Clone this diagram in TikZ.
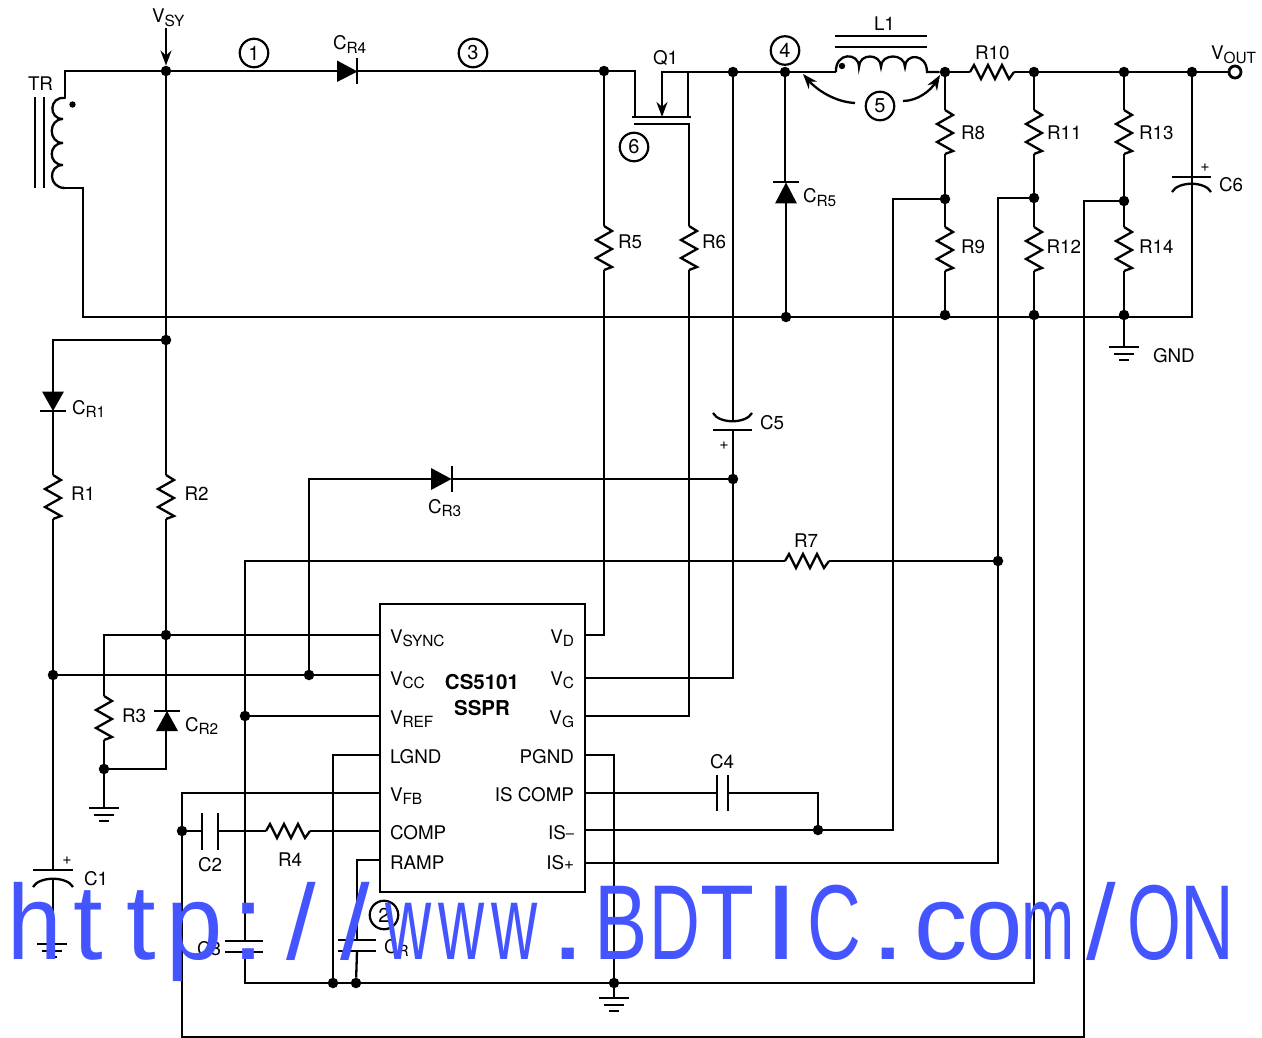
\documentclass[tikz,border=0pt]{standalone}
\usepackage{graphicx}
\usepackage{fontspec}
\setmainfont{TeX Gyre Heros}
\newfontfamily\wmfont{Liberation Sans}
\usetikzlibrary{arrows.meta}
\definecolor{wmblue}{RGB}{68,85,255}
\tikzset{
  wire/.style={line width=2.3pt,line join=miter,line cap=butt},
  dotj/.style={circle,fill=black,inner sep=0pt,minimum size=10.5pt},
  lab/.style={anchor=base west,inner sep=0pt,outer sep=0pt,font=\fontsize{18.8}{20}\selectfont},
  labr/.style={anchor=base east,inner sep=0pt,outer sep=0pt,font=\fontsize{18.8}{20}\selectfont},
  labb/.style={anchor=base,inner sep=0pt,outer sep=0pt,font=\fontsize{20.5}{22}\bfseries\selectfont},
  plus/.style={inner sep=0pt,outer sep=0pt,font=\fontsize{16}{17}\selectfont},
  num/.style={circle,draw,line width=2.2pt,minimum size=28.5pt,inner sep=0pt,font=\fontsize{20}{22}\selectfont},
  tip/.style={-{Stealth[length=15pt,width=11pt]},line width=2.3pt},
  watermark/.style={anchor=base west,inner sep=0pt,outer sep=0pt,text=wmblue,font=\fontsize{106.5}{120}\wmfont},
}
\newcommand{\wc}[2]{\makebox[53.3pt]{\scalebox{#1}[1]{#2}}}
\newcommand{\sbs}[2]{#1\raisebox{-3.2pt}{\fontsize{15.4}{16}\selectfont #2}}
\newcommand{\jn}[3]{\node[dotj] (#1) at (#2,#3) {};}
\newcommand{\cp}[3]{\coordinate (#1) at (#2,#3);}
% vertical resistor: name, x, ytop
\newcommand{\resV}[3]{%
  \coordinate (#1-t) at (#2,#3);\coordinate (#1-b) at (#2,#3+44);
  \draw[wire] (#1-t) -- ++(8,5) -- ++(-16,9) -- ++(16,9) -- ++(-16,9) -- ++(16,9) -- (#1-b);}
% horizontal resistor: name, xleft, y
\newcommand{\resH}[3]{%
  \coordinate (#1-l) at (#2,#3);\coordinate (#1-r) at (#2+44,#3);
  \draw[wire] (#1-l) -- ++(4,-7) -- ++(7,14) -- ++(7,-14) -- ++(7,14) -- ++(7,-14) -- ++(7,14) -- (#1-r);}
% ground: name, x, y of the top bar
\newcommand{\gnd}[3]{%
  \coordinate (#1) at (#2,#3);
  \draw[wire] (#2-15,#3) -- (#2+15,#3) (#2-10,#3+7) -- (#2+10,#3+7) (#2-5,#3+13) -- (#2+5,#3+13);}
\begin{document}
\begin{tikzpicture}[x=1pt,y=-1pt]
\useasboundingbox (0,0) rectangle (1262,1038);
% --- junctions
\jn{jVsy}{166}{71}\jn{jQs}{604}{71}\jn{jC}{733}{72}\jn{jF}{785}{72}\jn{jL}{945}{72}
\jn{jA}{1034}{72}\jn{jB}{1124}{72}\jn{jD}{1192}{72}
\jn{j340}{166}{340}\jn{jG5}{786}{317}\jn{jG9}{945}{315}\jn{jG12}{1034}{315}\jn{jG14}{1124}{315}
\jn{jR8}{945}{199}\jn{jR11}{1034}{198}\jn{jR13}{1124}{201}
\jn{jC5}{733}{479}\jn{jR7}{998}{561}\jn{jSync}{166}{635}\jn{jVcc}{53}{675}\jn{jVcc2}{309}{675}
\jn{jRef}{245}{716}\jn{jR3}{104}{769}\jn{jC2}{182}{831}\jn{jIs}{818}{830}
\jn{jB1}{333}{983}\jn{jB2}{356}{983}\jn{jB3}{614}{983}
% --- IC
\draw[wire] (380,604) rectangle (585,892) node[pos=.5,inner sep=0pt] (ic) {};
\cp{pSync}{380}{635}\cp{pVcc}{380}{675}\cp{pRef}{380}{716}\cp{pLg}{380}{755}\cp{pFb}{380}{793}\cp{pCo}{380}{831}\cp{pRa}{380}{860}
\cp{pD}{585}{635}\cp{pVc}{585}{678}\cp{pG}{585}{716}\cp{pPg}{585}{755}\cp{pIc}{585}{793}\cp{pMi}{585}{830}\cp{pPl}{585}{863}
% --- free coordinates
\cp{aTop}{65}{71}\cp{aCoil}{65}{98}\cp{aBot}{65}{188}\cp{aRail}{83}{188}\cp{aRailB}{83}{317}\cp{aRailE}{1192}{317}
\cp{vs}{166}{28}
\node[num] (n1) at (254,53) {1};\node[num] (n3) at (473,53) {3};\node[num] (n4) at (785,50.5) {4};
\node[num] (n5) at (880,106) {5};\node[num] (n6) at (634,147) {6};\node[num] (n2) at (384,915) {2};
% --- resistors
\resV{R1}{53}{475}\resV{R2}{166}{475}\resV{R3}{104}{696}
\resV{R5}{604}{226}\resV{R6}{689}{226}\resV{R8}{945}{110}\resV{R9}{945}{227}
\resV{R11}{1034}{110}\resV{R12}{1034}{227}\resV{R13}{1124}{110}\resV{R14}{1124}{227}
\resH{R10}{970}{72}\resH{R7}{785}{561}\resH{R4}{266}{831}
% --- top rail
\draw[wire] (aBot) -- (aRail) -- (aRailB) -- (aRailE) -- (jD);
\draw[wire] (aCoil) -- (aTop) -- (jVsy);
\draw[tip] (vs) -- (jVsy.north);
\cp{d4a}{337}{71}\cp{d4k}{357}{71}
\fill (337,60.5) -- (337,82) -- (357.5,71.5) -- cycle;
\draw[wire] (357,58) -- (357,84);
\draw[wire] (jVsy) -- (d4a) (d4k) -- (jQs);
\draw[wire] (jVsy) -- (j340) (j340) -- (R2-t) (R2-b) -- (jSync);
% transformer
\draw[wire] (35,97) -- (35,188) (44,97) -- (44,188);
\draw[wire,line cap=round] (aCoil) .. controls (49,96) and (48,119) .. (63,119)
  .. controls (48,119) and (48,143) .. (63,143)
  .. controls (48,143) and (48,165) .. (63,165)
  .. controls (48,165) and (48,188) .. (aBot);
\fill (72.5,104.5) circle (3.2);
% MOSFET
\cp{mS}{635}{71}\cp{mSb}{635}{117}\cp{mAr}{662}{72}\cp{mAb}{662}{117}\cp{mD}{688}{72}\cp{mDb}{688}{117}\cp{mG}{689}{124}
\draw[wire] (jQs) -- (mS) -- (mSb);
\draw[wire] (mD) -- (mDb);
\draw[wire] (632,117) -- (691,117);
\draw[wire] (634,124) -- (mG) -- (R6-t);
\draw[tip] (jC) -- (mAr) -- (mAb);
\draw[wire] (jC) -- (jF) -- (836,72);
% inductor
\draw[wire] (835,36) -- (927,36) (835,47) -- (927,47);
\cp{lA}{836}{72}\cp{lB}{927}{72}
\draw[wire] (lA) .. controls (835,52) and (859,52) .. (859,67)
  .. controls (859,53) and (881,53) .. (881,67)
  .. controls (881,53) and (905,53) .. (905,67)
  .. controls (905,53) and (927,53) .. (lB) -- (jL);
\fill (842,66) circle (3.2);
\draw[tip] (855,103) .. controls (835,102) and (817,90) .. (803,74);
\draw[tip] (903,101) .. controls (918,101) and (931,90) .. (940,75);
\draw[wire] (jL) -- (R10-l) (R10-r) -- (jA) -- (jB) -- (jD);
\cp{vo}{1235}{72}
\draw[wire] (jD) -- (1229,72);
\draw[line width=2.8pt] (vo) circle (6);
% R5 R6, diode CR5
\draw[wire] (jQs) -- (R5-t) (R5-b) -- (604,635) -- (pD);
\draw[wire] (R6-b) -- (689,716) -- (pG);
\draw[wire] (773,182) -- (799,182);
\fill (786,182.5) -- (775,203.5) -- (797,203.5) -- cycle;
\draw[wire] (jF) -- (785,182) (786,203) -- (jG5);
% divider columns
\draw[wire] (jL) -- (R8-t) (R8-b) -- (jR8) -- (R9-t) (R9-b) -- (jG9);
\draw[wire] (jA) -- (R11-t) (R11-b) -- (jR11) -- (R12-t) (R12-b) -- (jG12);
\draw[wire] (jB) -- (R13-t) (R13-b) -- (jR13) -- (R14-t) (R14-b) -- (jG14);
\gnd{g1}{1124}{347}
\draw[wire] (jG14) -- (g1);
% C6
\cp{c6t}{1192}{177}\cp{c6b}{1192}{184}
\draw[wire] (jD) -- (c6t) (1172,177) -- (1211,177);
\draw[wire] (1172,192) .. controls (1178,181) and (1205,181) .. (1211,192);
\draw[wire] (c6b) -- (aRailE);
% C5
\cp{c5t}{733}{421}\cp{c5b}{733}{430}
\draw[wire] (jC) -- (c5t);
\draw[wire] (713,413) .. controls (719,424) and (746,424) .. (752,413);
\draw[wire] (713,430) -- (752,430);
\draw[wire] (c5b) -- (jC5) -- (733,678) -- (pVc);
% CR3
\cp{d3a}{431}{479}\cp{d3k}{452}{479}
\fill (431,468) -- (431,490) -- (451.5,479) -- cycle;
\draw[wire] (452,466) -- (452,492);
\draw[wire] (jVcc2) -- (309,479) -- (d3a) (d3k) -- (jC5);
% CR1 R1 C1
\cp{d1k}{53}{411}
\fill (53,411) -- (42,391.5) -- (64,391.5) -- cycle;
\draw[wire] (40,411) -- (66,411);
\draw[wire] (j340) -- (53,340) -- (53,392) (d1k) -- (R1-t) (R1-b) -- (jVcc);
\cp{c1t}{53}{870}\cp{c1b}{53}{879}
\draw[wire] (jVcc) -- (c1t) (33,870) -- (73,870);
\draw[wire] (33,887) .. controls (39,876) and (67,876) .. (73,887);
\gnd{g2}{52}{944}
\draw[wire] (c1b) -- (53,944);
% VSYNC, VCC, R3, CR2
\draw[wire] (jVcc) -- (jVcc2) -- (pVcc);
\draw[wire] (jSync) -- (pSync);
\draw[wire] (jSync) -- (104,635) -- (R3-t);
\draw[wire] (R3-b) -- (jR3);
\gnd{g3}{104}{808}
\draw[wire] (jR3) -- (g3);
\draw[wire] (154,711) -- (180,711);
\fill (167,711) -- (156,731) -- (178,731) -- cycle;
\draw[wire] (jSync) -- (166,711) (166,730) -- (166,769) -- (jR3);
% R7 and VREF rail, C3
\draw[wire] (245,941) -- (245,561) -- (R7-l) (R7-r) -- (jR7);
\draw[wire] (jRef) -- (pRef);
\draw[wire] (225,941) -- (263,941) (225,952) -- (263,952);
\draw[wire] (245,952) -- (245,983) -- (jB1);
\draw[wire] (jB1) -- (jB2) -- (jB3) -- (1034,983) -- (jG12);
% LGND
\draw[wire] (pLg) -- (333,755) -- (jB1);
% VFB loop
\draw[wire] (pFb) -- (182,793) -- (182,1037) -- (1084,1037) -- (1084,201) -- (jR13);
% COMP, C2, R4
\draw[wire] (jC2) -- (202,831) (218,831) -- (R4-l) (R4-r) -- (pCo);
\draw[wire] (202,813) -- (202,850) (218,813) -- (218,850);
% RAMP and CR cap
\draw[wire] (pRa) -- (357,860) -- (357,940);
\draw[wire] (338,940) -- (376,940) (338,951) -- (376,951);
\draw[wire] (357,951) -- (jB2);
% right pins
\draw[wire] (pPg) -- (614,755) -- (jB3);
\gnd{g4}{614}{998}
\draw[wire] (jB3) -- (g4);
\draw[wire] (pIc) -- (717,793) (728,793) -- (818,793) -- (jIs);
\draw[wire] (717,775) -- (717,811) (728,775) -- (728,811);
\draw[wire] (pMi) -- (jIs) -- (893,830) -- (893,199) -- (jR8);
\draw[wire] (pPl) -- (998,863) -- (jR7) -- (998,198) -- (jR11);
% --- labels
\node[lab] (tVsy) at (152,23) {\sbs{V}{SY}};
\node[lab] (tTR) at (28,91) {TR};
\node[lab] (tCR4) at (333,50) {\sbs{C}{R4}};
\node[lab] (tQ1) at (653,65) {Q1};
\node[lab] (tL1) at (874,31) {L1};
\node[lab] (tR10) at (975,60) {R10};
\node[lab] (tVout) at (1211,60) {\sbs{V}{OUT}};
\node[lab] (tR8) at (961,140) {R8};\node[lab] (tR9) at (961,253) {R9};
\node[lab] (tR5) at (618,248) {R5};\node[lab] (tR6) at (702,248) {R6};
\node[lab] (tCR5) at (803,203) {\sbs{C}{R5}};
\node[lab] (tR11) at (1047,140) {R11};\node[lab] (tR12) at (1046.5,253) {R12};
\node[lab] (tR13) at (1139,140) {R13};\node[lab] (tR14) at (1139,253) {R14};
\node[lab] (tC6) at (1219,191.5) {C6};\node[plus] (tP6) at (1205,168) {+};
\node[lab] (tGND) at (1153,362) {GND};
\node[lab] (tC5) at (760,429) {C5};\node[plus] (tP5) at (724,446) {+};
\node[lab] (tCR3) at (428,513) {\sbs{C}{R3}};
\node[lab] (tCR1) at (72,414) {\sbs{C}{R1}};
\node[lab] (tR1) at (71,500) {R1};\node[lab] (tR2) at (184.5,500) {R2};
\node[lab] (tR7) at (794,547) {R7};
\node[lab] (tR3) at (122,722) {R3};
\node[lab] (tCR2) at (185,731) {\sbs{C}{R2}};
\node[lab] (tC1) at (84,885) {C1};\node[plus] (tP1) at (67,861) {+};
\node[lab] (tC2) at (198,871) {C2};\node[lab] (tR4) at (278,866) {R4};
\node[lab] (tC3) at (197,955) {C3};\node[lab] (tCRr) at (384,953) {\sbs{C}{R}};
\node[lab] (tC4) at (710,768) {C4};
\node[lab] (i1) at (390,643) {\sbs{V}{SYNC}};
\node[lab] (i2) at (390,685) {\sbs{V}{CC}};
\node[lab] (i3) at (390,724) {\sbs{V}{REF}};
\node[lab] (i4) at (390,763) {LGND};
\node[lab] (i5) at (390,801) {\sbs{V}{FB}};
\node[lab] (i6) at (390,839) {COMP};
\node[lab] (i7) at (390,869) {RAMP};
\node[labr] (o1) at (574,643) {\sbs{V}{D}};
\node[labr] (o2) at (574,685) {\sbs{V}{C}};
\node[labr] (o3) at (574,724) {\sbs{V}{G}};
\node[labr] (o4) at (574,763) {PGND};
\node[labr] (o5) at (574,801) {IS COMP};
\node[labr] (o6) at (574,839) {IS\raisebox{1pt}{\fontsize{14.7}{15}\selectfont –}};
\node[labr] (o7) at (574,869) {IS\raisebox{0pt}{\fontsize{17}{15}\selectfont +}};
\node[labb] (ic1) at (482,689) {CS5101};
\node[labb] (ic2) at (482,715) {SSPR};
% --- watermark over everything
\node[watermark] (wm) at (8.4,959.5) {\wc{.92}{h}\wc{1}{t}\wc{1}{t}\wc{.95}{p}\wc{1.15}{:}\wc{1}{/}\wc{1}{/}\wc{.6}{w}\wc{.6}{w}\wc{.6}{w}\wc{1.2}{.}\wc{.75}{B}\wc{.66}{D}\wc{.83}{T}\wc{1.15}{I}\wc{.7}{C}\wc{1.2}{.}\wc{1}{c}\wc{.95}{o}\wc{.6}{m}\wc{1}{/}\wc{.65}{O}\wc{.7}{N}};
\end{tikzpicture}
\end{document}
